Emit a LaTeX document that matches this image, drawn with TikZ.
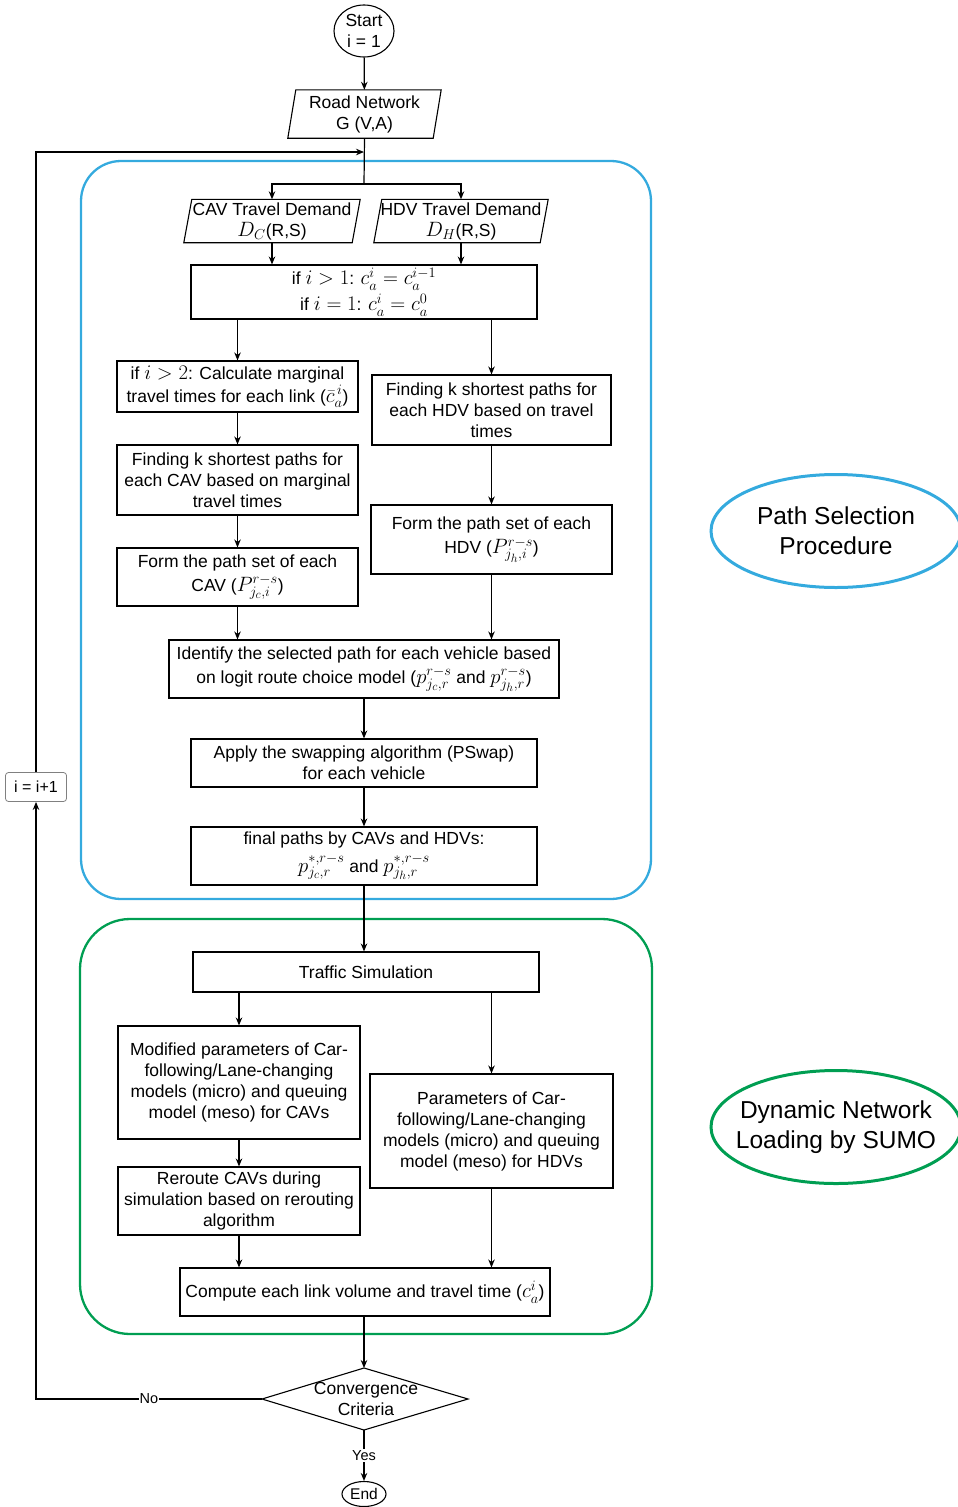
\documentclass[tikz,border=0pt]{standalone}
\usepackage{fontspec}
\setmainfont{Liberation Sans}
\DeclareMathSizes{17.5}{20.5}{15}{12}
\usetikzlibrary{arrows.meta,shapes.geometric}
\definecolor{psblue}{RGB}{52,170,222}
\definecolor{dngreen}{RGB}{0,158,82}
\begin{document}
\begin{tikzpicture}[x=1pt,y=-1pt,
  txt/.style={font=\fontsize{17.5}{21}\selectfont},
  box/.style={txt,draw,line width=1.1pt,align=center,inner sep=0pt},
  pbox/.style={txt,align=center,inner sep=0pt},
  slantbox/.style={line width=1.1pt},
  conn/.style={line width=1.2pt,-{Stealth[length=8pt,width=6.5pt]}},
  plain/.style={line width=1.2pt},
  frame/.style={line width=2.3pt},
  tag/.style={draw,line width=3pt,ellipse,minimum width=250,minimum height=113,inner sep=0pt},
  tagtxt/.style={align=center,inner sep=0pt,font=\fontsize{24.5}{30}\selectfont},
  lab/.style={fill=white,inner sep=1pt,font=\fontsize{14.5}{16}\selectfont}
]
\useasboundingbox (0,0) rectangle (958,1507);

% frames
\draw[frame,psblue,rounded corners=40pt] (81,161) rectangle (651,899);
\draw[frame,dngreen,rounded corners=50pt] (80,919) rectangle (652,1334);
\node[tag,draw=psblue] (ps) at (836,531) {};
\node[tagtxt] (pstxt) at (ps.center) {Path Selection\\Procedure};
\node[tag,draw=dngreen] (dn) at (836,1127) {};
\node[tagtxt] (dntxt) at (dn.center) {Dynamic Network\\Loading by SUMO};

% start / road network / demands
\node[txt,draw,line width=1.1pt,ellipse,align=center,inner sep=0pt,minimum width=60,minimum height=52] (start) at (364,31) {Start\\i = 1};
\node[pbox,minimum width=145,minimum height=48] (road) at (364.5,114) {Road Network\\G (V,A)};
\node[pbox,minimum width=168,minimum height=43] (cav) at (272,221) {CAV Travel Demand\\$D_C$(R,S)};
\node[pbox,minimum width=166,minimum height=43] (hdv) at (461,221) {HDV Travel Demand\\$D_H$(R,S)};
\foreach \n in {road,cav,hdv}{
  \draw[slantbox] ([xshift=4pt]\n.north west) -- ([xshift=4pt]\n.north east) -- ([xshift=-4pt]\n.south east) -- ([xshift=-4pt]\n.south west) -- cycle;
}

% path selection boxes
\node[box,minimum width=346,minimum height=54] (init) at (364,292) {if $i>1$: $c_a^i=c_a^{i-1}$\\[3pt]if $i=1$: $c_a^i=c_a^0$};
\node[box,minimum width=241,minimum height=51] (marg) at (237.5,386.5) {if $i>2$: Calculate marginal\\[2pt]travel times for each link ($\bar{c}_a^{\,i}$)};
\node[box,minimum width=241,minimum height=70] (fcav) at (237.5,480) {Finding k shortest paths for\\each CAV based on marginal\\travel times};
\node[box,minimum width=241,minimum height=58] (pcav) at (237.5,577) {Form the path set of each\\[3pt]CAV ($P_{j_c,i}^{r-s}$)};
\node[box,minimum width=239,minimum height=70] (fhdv) at (491.5,410) {Finding k shortest paths for\\each HDV based on travel\\times};
\node[box,minimum width=241,minimum height=69] (phdv) at (491.5,539.5) {Form the path set of each\\[3pt]HDV ($P_{j_h,i}^{r-s}$)};
\node[box,minimum width=390,minimum height=58] (ident) at (364,669) {Identify the selected path for each vehicle based\\[3pt]on logit route choice model ($p_{j_c,r}^{r-s}$ and $p_{j_h,r}^{r-s}$)};
\node[box,minimum width=346,minimum height=48] (apply) at (364,763) {Apply the swapping algorithm (PSwap)\\for each vehicle};
\node[box,minimum width=346,minimum height=58] (final) at (364,856) {final paths by CAVs and HDVs:\\[5pt]$p_{j_c,r}^{*,r-s}$ and $p_{j_h,r}^{*,r-s}$};

% simulation boxes
\node[box,minimum width=346,minimum height=40] (traf) at (366,972) {Traffic Simulation};
\node[box,minimum width=242,minimum height=113] (mod) at (239,1082.5) {Modified parameters of Car-\\following/Lane-changing\\models (micro) and queuing\\model (meso) for CAVs};
\node[box,minimum width=243,minimum height=114] (param) at (491.5,1131) {Parameters of Car-\\following/Lane-changing\\models (micro) and queuing\\model (meso) for HDVs};
\node[box,minimum width=242,minimum height=68] (rer) at (239,1201) {Reroute CAVs during\\simulation based on rerouting\\algorithm};
\node[box,minimum width=370,minimum height=48] (comp) at (365,1292) {Compute each link volume and travel time ($c_a^i$)};

% convergence diamond
\coordinate (convL) at (262,1399);
\coordinate (convT) at (364,1368);
\coordinate (convR) at (468,1399);
\coordinate (convB) at (364,1430);
\draw[slantbox] (convL) -- (convT) -- (convR) -- (convB) -- cycle;
\node[pbox,align=center] (conv) at (366,1399) {Convergence\\Criteria};
\node[draw,line width=1.1pt,ellipse,inner sep=0pt,minimum width=44,minimum height=25,font=\fontsize{15.5}{18}\selectfont] (endn) at (364,1494) {End};

% loop counter
\node[draw=gray,line width=0.8pt,rounded corners=3pt,minimum width=61,minimum height=29,inner sep=0pt,font=\fontsize{16}{18}\selectfont] (iinc) at (36,787) {i = i+1};
\coordinate (merge) at (364,152);
\coordinate (split) at (364,184);
\coordinate (topcorner) at (36,152);
\coordinate (nocorner) at (36,1399);

% connectors
\draw[conn] (start) -- (road);
\draw[plain] (road.south) -- (split);
\draw[conn] (split) -| (cav.north);
\draw[conn] (split) -| (hdv.north);
\draw[conn] (cav.south) -- (cav.south |- init.north);
\draw[conn] (hdv.south) -- (hdv.south |- init.north);
\draw[conn] (init.south -| marg.north) -- (marg.north);
\draw[conn] (init.south -| fhdv.north) -- (fhdv.north);
\draw[conn] (marg) -- (fcav);
\draw[conn] (fcav) -- (pcav);
\draw[conn] (pcav.south) -- (pcav.south |- ident.north);
\draw[conn] (fhdv) -- (phdv);
\draw[conn] (phdv.south) -- (phdv.south |- ident.north);
\draw[conn] (ident) -- (apply);
\draw[conn] (apply) -- (final);
\draw[conn] (final.south) -- (final.south |- traf.north);
\draw[conn] (traf.south -| mod.north) -- (mod.north);
\draw[conn] (traf.south -| param.north) -- (param.north);
\draw[conn] (mod) -- (rer);
\draw[conn] (rer.south) -- (rer.south |- comp.north);
\draw[conn] (param.south) -- (param.south |- comp.north);
\draw[conn] (comp.south -| convT) -- (convT);
\draw[conn] (convL) -- node[lab]{No} (nocorner) -- (iinc.south);
\draw[conn] (iinc.north) -- (topcorner) -- (merge);
\draw[conn] (convB) -- node[lab]{Yes} (endn);
\end{tikzpicture}
\end{document}
